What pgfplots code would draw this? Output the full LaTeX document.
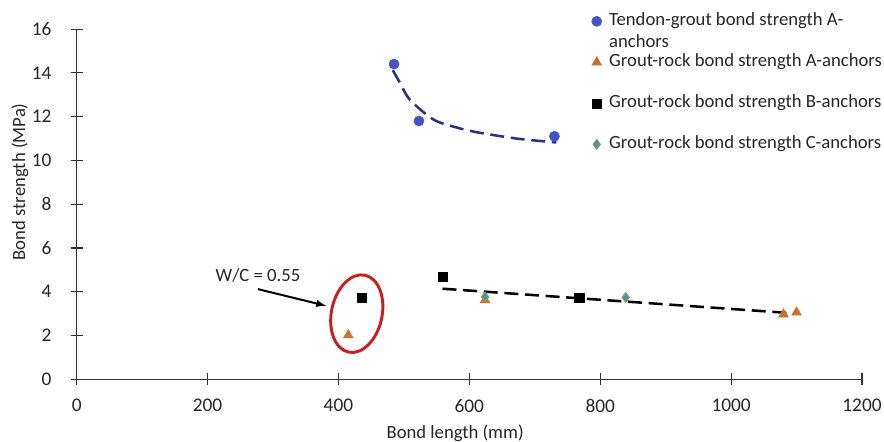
\documentclass[border=0pt]{standalone}
\usepackage{pgfplots}
\pgfplotsset{compat=1.18}
\usepackage{fontspec}
\setmainfont{Carlito}
\definecolor{cblue}{RGB}{68,84,196}
\definecolor{corange}{RGB}{204,112,44}
\definecolor{cnavy}{RGB}{38,50,130}
\definecolor{cdfill}{RGB}{91,130,200}
\definecolor{cdline}{RGB}{112,173,71}
\definecolor{cred}{RGB}{200,30,30}
\begin{document}
\begin{tikzpicture}
\fontsize{14pt}{16.8pt}\selectfont
\begin{axis}[
  at={(0,0)}, anchor=origin,
  scale only axis, width=589pt, height=262.7pt,
  xmin=0, xmax=1200, ymin=0, ymax=16,
  xtick={0,200,...,1200}, ytick={0,2,...,16},
  axis line style={draw=none},
  xtick pos=bottom, ytick pos=left,
  tick style={line width=0.8pt, color=black!80},
  tick align=center, major tick length=9pt,
  /pgf/number format/assume math mode=true,
  /pgf/number format/1000 sep={},
  ticklabel style={font=\fontsize{14.5pt}{17pt}\selectfont, text=black!85},
  xticklabel style={yshift=-5.5pt},
  yticklabel style={xshift=-9.5pt},
  xlabel={Bond length (mm)}, ylabel={Bond strength (MPa)},
  label style={font=\fontsize{14pt}{16.8pt}\selectfont, text=black!85},
  xlabel style={at={(axis description cs:0.482,-0.155)}, anchor=center},
  ylabel style={at={(axis description cs:-0.0722,0.564)}, anchor=center, rotate=0},
  clip=false,
  legend style={at={(axis description cs:0.6558,1.0449)}, anchor=north west,
    draw=none, fill=none, inner sep=0pt, outer sep=0pt, row sep=18.75pt, column sep=5.5pt,
    font=\fontsize{14pt}{16.8pt}\selectfont, text=black!85,
    nodes={inner sep=0pt, text height=9pt, text depth=3pt, anchor=west}},
  legend cell align=left,
]
\draw[line width=0.8pt, black!80] (rel axis cs:0,1) -- (rel axis cs:0,0) -- (rel axis cs:1,0);
\addplot[only marks, mark=*, mark size=3.8pt, color=cblue] coordinates {(485,14.4) (523,11.8) (730,11.1)};
\addlegendentry{\smash{\begin{tabular}[t]{@{}l@{}}Tendon-grout bond strength A-\\anchors\end{tabular}}}
\addplot[only marks, mark=triangle*, mark size=4.2pt, color=corange] coordinates {(415,2.02) (624,3.62) (1080,2.97) (1100,3.06)};
\addlegendentry{Grout-rock bond strength A-anchors}
\addplot[only marks, mark=square*, mark size=3.4pt, color=black] coordinates {(435,3.73) (560,4.69) (768,3.72)};
\addlegendentry{Grout-rock bond strength B-anchors}
\addplot[only marks, mark=diamond*, mark size=3.6pt, draw=cdline, fill=cdfill, line width=0.8pt] coordinates {(624,3.77) (839,3.74)};
\addlegendentry{Grout-rock bond strength C-anchors}
\addplot[cnavy, line width=1.9pt, dash pattern=on 10.5pt off 5pt, smooth, forget plot] coordinates {(483,14.12) (493,13.6) (509,12.78) (545,11.87) (581,11.5) (611,11.29) (672,11.0) (733,10.82)};
\addplot[black, line width=1.9pt, dash pattern=on 10.5pt off 5pt, forget plot] coordinates {(559,4.14) (1103,3.0)};
\draw[cred, line width=2.2pt, shift={(axis cs:428,3)}, rotate=-12] (0,0) ellipse [x radius=19pt, y radius=29.5pt];
\draw[black, line width=1.5pt, -latex] (axis cs:277,4.12) -- (axis cs:381,3.36);
\node[text=black!85] at (axis cs:277,4.73) {W/C = 0.55};
\end{axis}
\pgfresetboundingbox
\path (-57.5pt,-47pt) rectangle (605.5pt,284.5pt);
\end{tikzpicture}
\end{document}
